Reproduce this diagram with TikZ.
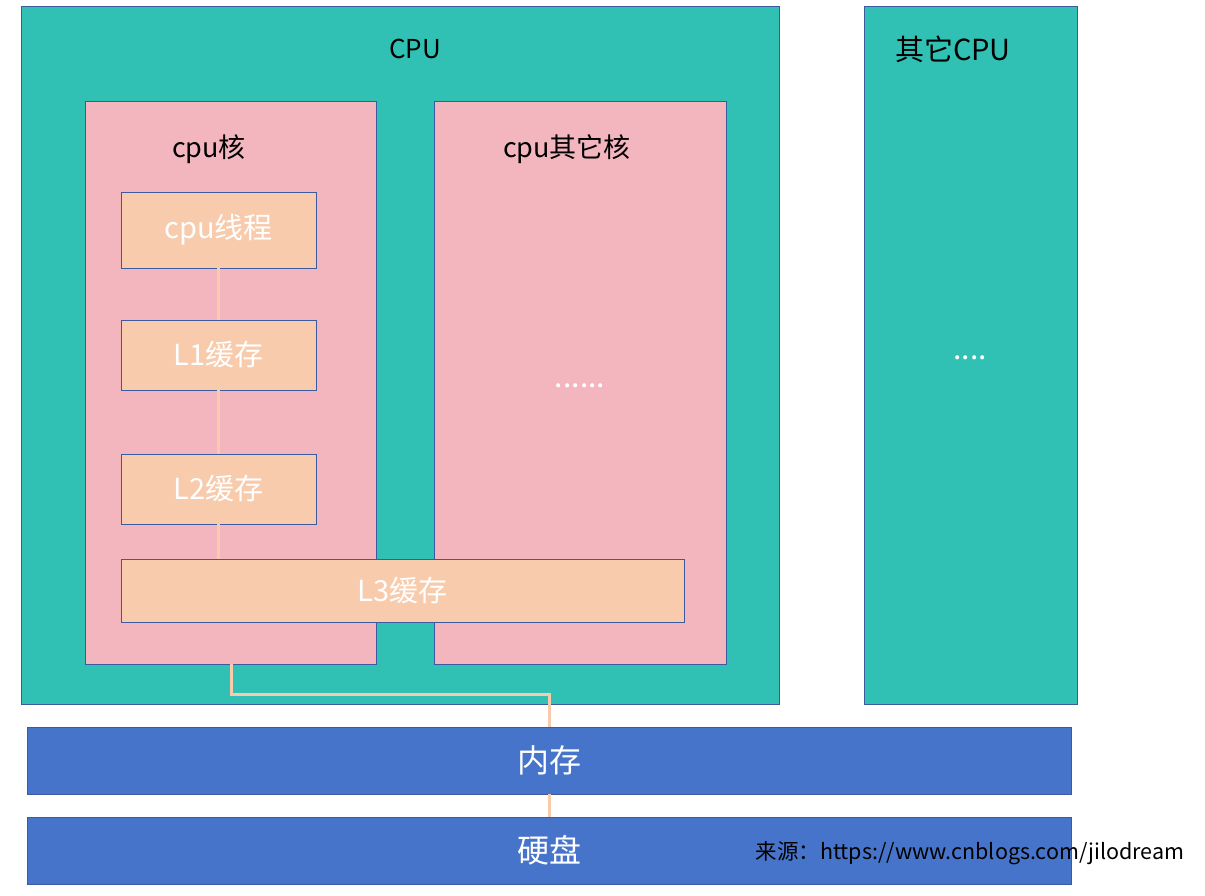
\documentclass[tikz,border=0pt]{standalone}
\usepackage{fontspec}
\setmainfont{Noto Sans CJK SC}
\usetikzlibrary{calc}

\definecolor{cputeal}{RGB}{49,192,180}
\definecolor{corepink}{RGB}{244,182,190}
\definecolor{cachepeach}{RGB}{248,203,173}
\definecolor{memblue}{RGB}{70,116,202}
\definecolor{edgeblue}{RGB}{60,90,160}

\begin{document}
\begin{tikzpicture}[x=1pt,y=-1pt,
	box/.style={draw=edgeblue, line width=0.8pt, inner sep=0pt, outer sep=0pt},
	cache/.style={box, fill=cachepeach, text=white, font=\fontsize{29}{29}\selectfont},
	link/.style={draw=cachepeach, line width=3pt},
	title/.style={font=\fontsize{27}{27}\selectfont}]
	\useasboundingbox (0,0) rectangle (1205,895);

	% the two processors
	\node[box, fill=cputeal, minimum width=758pt, minimum height=698pt] (cpu) at (400,355) {};
	\node[box, fill=cputeal, minimum width=213pt, minimum height=698pt] (cpu2) at (970.5,355) {};
	\node[font=\fontsize{26}{26}\selectfont] (cpulabel) at (415,49) {CPU};
	\node[font=\fontsize{29}{29}\selectfont] (cpu2label) at (953,49) {其它CPU};
	\node[text=white, font=\fontsize{30}{30}\selectfont] (cpu2dots) at (970,358) {....};

	% cores
	\node[box, fill=corepink, minimum width=291pt, minimum height=563pt] (core) at (230.5,382.5) {};
	\node[box, fill=corepink, minimum width=292pt, minimum height=563pt] (core2) at (580,382.5) {};
	\node[title] (corelabel) at (209,149) {cpu核};
	\node[title] (core2label) at (567,149) {cpu其它核};
	\node[text=white, font=\fontsize{30}{30}\selectfont] (core2dots) at (580,386) {......};

	% caches
	\node[cache, minimum width=195pt, minimum height=76pt] (thread) at (218.5,230) {cpu线程};
	\node[cache, minimum width=195pt, minimum height=70pt] (l1) at (218.5,355) {L1缓存};
	\node[cache, minimum width=195pt, minimum height=70pt] (l2) at (218.5,489) {L2缓存};
	\node[cache, minimum width=563pt, minimum height=63pt] (l3) at (402.5,590.5) {L3缓存};

	\draw[link] (thread) -- (l1);
	\draw[link] (l1) -- (l2);
	\draw[link] (l2.south) -- (l2.south |- l3.north);

	% memory and disk
	\node[box, fill=memblue, text=white, minimum width=1044pt, minimum height=67pt,
		font=\fontsize{32}{32}\selectfont] (mem) at (549,760.5) {内存};
	\node[box, fill=memblue, text=white, minimum width=1044pt, minimum height=67pt,
		font=\fontsize{32}{32}\selectfont] (disk) at (549,850.5) {硬盘};

	\coordinate (bus) at (231,694);
	\draw[link] (core.south -| bus) -- (bus) -- (bus -| mem.north) -- (mem.north);
	\draw[link] (mem.south) -- (disk.north);

	\node[anchor=west, font=\fontsize{21.5}{21.5}\selectfont] (source) at (752,853) {来源：https://www.cnblogs.com/jilodream};
\end{tikzpicture}
\end{document}
